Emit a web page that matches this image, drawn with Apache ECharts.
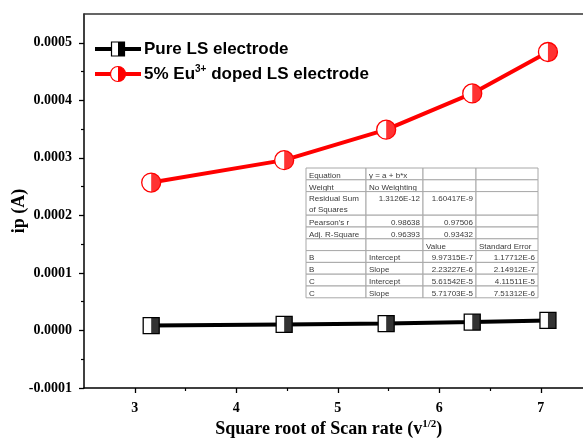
<!DOCTYPE html>
<html>
<head>
<meta charset="utf-8">
<script src="https://cdn.jsdelivr.net/npm/echarts@6/dist/echarts.min.js"></script>
<style>
  html, body { margin: 0; padding: 0; background: #fff; }
  #chart { width: 583px; height: 439px; }
</style>
</head>
<body>
<div id="chart"></div>
<script>
// Square root of scan rate (sqrt of 10, 20, 30, 40, 50 mV/s)
const scanRateRoot = [3.162, 4.472, 5.477, 6.325, 7.071];
// Peak current (A)
const pureLS = [8.5e-6, 1.05e-5, 1.2e-5, 1.45e-5, 1.75e-5];
const euDopedLS = [2.57e-4, 2.96e-4, 3.49e-4, 4.12e-4, 4.84e-4];

const xMajorTicks = [3, 4, 5, 6, 7];
const xMinorTicks = [3.5, 4.5, 5.5, 6.5];
const yMajorTicks = [-0.0001, 0, 0.0001, 0.0002, 0.0003, 0.0004, 0.0005];
const yMinorTicks = [-0.00005, 0.00005, 0.00015, 0.00025, 0.00035, 0.00045];

const seriesNames = ['Pure LS electrode', '5% Eu{sup|3+} doped LS electrode'];

// Linear fit summary table (rows of cells)
const fitTable = [
  ['Equation', 'y = a + b*x', '', ''],
  ['Weight', 'No Weighting', '', ''],
  ['Residual Sum\nof Squares', '1.3126E-12', '1.60417E-9', ''],
  ["Pearson's r", '0.98638', '0.97506', ''],
  ['Adj. R-Square', '0.96393', '0.93432', ''],
  ['', '', 'Value', 'Standard Error'],
  ['B', 'Intercept', '9.97315E-7', '1.17712E-6'],
  ['B', 'Slope', '2.23227E-6', '2.14912E-7'],
  ['C', 'Intercept', '5.61542E-5', '4.11511E-5'],
  ['C', 'Slope', '5.71703E-5', '7.51312E-6']
];
const fitRowUnits = [1, 1, 2, 1, 1, 1, 1, 1, 1, 1];

const pair = (xs, ys) => xs.map((x, i) => [x, ys[i]]);

const serif = '"Liberation Serif", "Times New Roman", serif';
const sans = '"Liberation Sans", Arial, sans-serif';

// ---- fit table graphic ----
function buildTable(left, top, colWidths, unitH) {
  const children = [];
  let y = top;
  fitTable.forEach((row, r) => {
    const h = fitRowUnits[r] * unitH;
    let x = left;
    row.forEach((cell, c) => {
      const w = colWidths[c];
      children.push({
        type: 'rect',
        shape: { x: x, y: y, width: w, height: h },
        style: { fill: '#fff', stroke: '#a8a8a8', lineWidth: 1 }
      });
      if (cell) {
        const numeric = /^[-\d.]+(E-\d+)?$/.test(cell);
        children.push({
          type: 'text',
          x: numeric ? x + w - 3 : x + 3,
          y: y + 2,
          style: {
            text: cell,
            fill: '#3a3a3a',
            font: '8px ' + sans,
            align: numeric ? 'right' : 'left',
            verticalAlign: 'top',
            lineHeight: 11
          }
        });
      }
      x += w;
    });
    y += h;
  });
  return { type: 'group', z: 50, children: children };
}

// ---- legend graphic ----
function legendEntry(y, color, square, label) {
  const cx = 118;
  const items = [
    { type: 'line', shape: { x1: 95, y1: y, x2: 141, y2: y }, style: { stroke: color, lineWidth: 4 } }
  ];
  if (square) {
    items.push({ type: 'rect', shape: { x: cx - 6.5, y: y - 7, width: 13, height: 14 }, style: { fill: '#fff', stroke: '#000', lineWidth: 1.2 } });
    items.push({ type: 'rect', shape: { x: cx, y: y - 7, width: 6.5, height: 14 }, style: { fill: '#000' } });
  } else {
    items.push({ type: 'circle', shape: { cx: cx, cy: y, r: 7.5 }, style: { fill: '#fff', stroke: color, lineWidth: 1.2 } });
    items.push({ type: 'sector', shape: { cx: cx, cy: y, r: 7.5, r0: 0, startAngle: -Math.PI / 2, endAngle: Math.PI / 2 }, style: { fill: color } });
  }
  items.push({
    type: 'text', x: 144, y: y,
    style: {
      text: label, fill: '#000', font: 'bold 17px ' + sans,
      verticalAlign: 'middle',
      rich: { sup: { fontSize: 10, fontWeight: 'bold', fontFamily: sans, verticalAlign: 'top', padding: [0, 0, 10, 0] } }
    }
  });
  return { type: 'group', z: 60, children: items };
}

const chart = echarts.init(document.getElementById('chart'), null, { renderer: 'canvas' });

const axisLineStyle = { color: '#000', width: 1.5 };

chart.setOption({
  animation: false,
  backgroundColor: '#fff',
  grid: { left: 84, top: 14, width: 507.5, height: 374, containLabel: false, outerBoundsMode: 'none' },
  xAxis: [
    {
      type: 'value', min: 2.5, max: 7.5, position: 'bottom',
      axisLine: { show: true, onZero: false, lineStyle: axisLineStyle },
      axisTick: { show: true, inside: false, length: 5, customValues: xMajorTicks, lineStyle: { color: '#000', width: 1.3 } },
      axisLabel: {
        customValues: xMajorTicks, margin: 13, color: '#000',
        fontFamily: serif, fontWeight: 'bold', fontSize: 14
      },
      splitLine: { show: false },
      name: 'Square root of Scan rate (v{sup|1/2})',
      nameLocation: 'middle', nameGap: 31, nameMoveOverlap: false,
      nameTextStyle: {
        fontFamily: serif, fontWeight: 'bold', fontSize: 18, color: '#000',
        padding: [0, 18, 0, 0],
        rich: { sup: { fontFamily: serif, fontWeight: 'bold', fontSize: 11, verticalAlign: 'top', padding: [0, 0, 9, 0] } }
      }
    },
    {
      type: 'value', min: 2.5, max: 7.5, position: 'top',
      axisLine: { show: true, onZero: false, lineStyle: { color: '#333', width: 1.5 } },
      axisTick: { show: false }, axisLabel: { show: false }, splitLine: { show: false }
    },
    {
      type: 'value', min: 2.5, max: 7.5, position: 'bottom',
      axisLine: { show: false, onZero: false },
      axisTick: { show: true, inside: false, length: 3, customValues: xMinorTicks, lineStyle: { color: '#000', width: 1.2 } },
      axisLabel: { show: false }, splitLine: { show: false }
    }
  ],
  yAxis: [
    {
      type: 'value', min: -0.0001, max: 0.00055, position: 'left',
      axisLine: { show: true, onZero: false, lineStyle: axisLineStyle },
      axisTick: { show: true, inside: false, length: 5, customValues: yMajorTicks, lineStyle: { color: '#000', width: 1.3 } },
      axisLabel: {
        customValues: yMajorTicks, margin: 12, color: '#000',
        fontFamily: serif, fontWeight: 'bold', fontSize: 14,
        formatter: v => v.toFixed(4)
      },
      splitLine: { show: false },
      name: 'ip (A)', nameLocation: 'middle', nameGap: 56, nameRotate: 90, nameMoveOverlap: false,
      nameTextStyle: {
        fontFamily: serif, fontWeight: 'bold', fontSize: 18, color: '#000',
        padding: [0, 20, 0, 0]
      }
    },
    {
      type: 'value', min: -0.0001, max: 0.00055, position: 'left',
      axisLine: { show: false, onZero: false },
      axisTick: { show: true, inside: false, length: 3, customValues: yMinorTicks, lineStyle: { color: '#000', width: 1.2 } },
      axisLabel: { show: false }, splitLine: { show: false }
    }
  ],
  series: [
    {
      name: 'Pure LS electrode', type: 'line', data: pair(scanRateRoot, pureLS),
      lineStyle: { color: '#000', width: 4 },
      symbol: 'rect', symbolSize: 16,
      itemStyle: { color: '#fff', borderColor: '#000', borderWidth: 1.3 },
      z: 3
    },
    {
      type: 'scatter', data: pair(scanRateRoot, pureLS),
      symbol: 'rect', symbolSize: [8, 16], symbolOffset: [4, 0],
      itemStyle: { color: '#000' }, z: 4, silent: true
    },
    {
      name: '5% Eu3+ doped LS electrode', type: 'line', data: pair(scanRateRoot, euDopedLS),
      lineStyle: { color: '#ff0000', width: 4 },
      symbol: 'circle', symbolSize: 19,
      itemStyle: { color: '#fff', borderColor: '#ff0000', borderWidth: 1.3 },
      z: 3
    },
    {
      type: 'scatter', data: pair(scanRateRoot, euDopedLS),
      symbol: 'path://M0,0 A10,10 0 0 1 0,20 Z', symbolSize: [9.5, 19], symbolOffset: [4.75, 0],
      itemStyle: { color: '#ff0000' }, z: 4, silent: true
    }
  ],
  graphic: [
    legendEntry(49, '#000', true, seriesNames[0]),
    legendEntry(74, '#ff0000', false, seriesNames[1]),
    buildTable(306, 168, [60, 57, 53, 62], 11.8)
  ]
});
</script>
</body>
</html>
